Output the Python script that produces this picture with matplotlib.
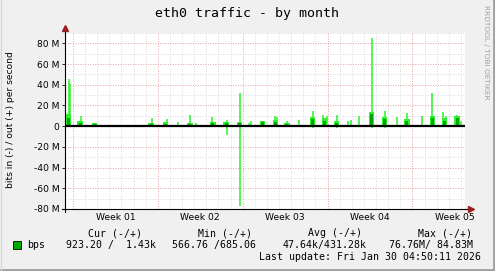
import matplotlib.pyplot as plt
import numpy as np

W, H = 495, 271

# spike positions in days since the left edge of the graph, values in Mbit/s
max_day = [0.33, 0.41, 1.32, 2.31, 2.47, 2.64, 7.17, 8.15, 8.40, 9.31, 10.30, 10.79,
           12.11, 12.27, 13.34, 14.42, 15.16, 15.32, 16.31, 17.30, 17.46, 18.29, 18.45,
           19.28, 20.43, 21.25, 21.58, 22.41, 23.31, 23.56, 24.22, 25.29, 26.36, 27.43,
           28.25, 29.49, 30.31, 31.22, 31.47, 32.37, 32.70]
max_out = [46, 41, 10, 3, 3, 2.5, 8, 3, 7, 4, 11, 3,
           9, 4, 6, 32, 3, 5, 5, 10, 9, 5, 3,
           6, 15, 11, 10, 11, 5, 6, 10, 84.8, 15, 9,
           13, 10, 32, 14, 10, 11, 5]

avg_day = [0.25, 1.25, 2.45, 7.1, 8.3, 10.3, 12.2, 13.3, 14.4, 16.3, 17.35, 18.3,
           20.4, 21.4, 22.4, 25.3, 26.35, 28.2, 30.3, 31.3, 32.35]
avg_out = [8, 3, 2, 2, 2.5, 2, 3, 3, 3, 4, 4, 2,
           7, 5, 3, 12, 7, 5, 8, 5, 8]
hi_out = [12, 5, 3, 3, 4, 3, 4, 4, 4, 5, 6, 3,
          9, 8, 5, 14, 9, 7, 10, 8, 10]

neg_day = [13.34, 14.42, 20.43, 22.41, 25.29, 26.36]
neg_in = [-9, -76.8, -2, -2, -2, -2]

week_lines = [0.66, 7.66, 14.66, 21.66, 28.66]
week_labels = ['Week 01', 'Week 02', 'Week 03', 'Week 04', 'Week 05']

legend_head = [('Cur (-/+)', 115), ('Min (-/+)', 225), ('Avg (-/+)', 335), ('Max (-/+)', 445)]
legend_vals = [('923.20 /  1.43k', 111), ('566.76 /685.06', 214),
               ('47.64k/431.28k', 325), ('76.76M/ 84.83M', 431)]

bright = '#2cf02c'
dark = '#00a800'

fig = plt.figure(figsize=(W / 100, H / 100), dpi=100, facecolor='#f0f0f0')
ax = fig.add_axes([65 / W, 1 - 209 / H, 400 / W, 176 / H])
ax.set_facecolor('white')
ax.set_xlim(0, 33)
ax.set_ylim(-80, 90)

# grid
for d in np.arange(0.66, 33, 1.0):
    ax.axvline(d, color='#cfcfcf', lw=0.6, ls=(0, (1, 2)), zorder=0)
for y in range(-80, 91, 10):
    ax.axhline(y, color='#cfcfcf', lw=0.6, ls=(0, (1, 2)), zorder=0)
for d in week_lines:
    ax.axvline(d, color='#f09a9a', lw=0.6, ls=(0, (1, 2)), zorder=0.5)
for y in range(-80, 91, 20):
    ax.axhline(y, color='#f09a9a', lw=0.6, ls=(0, (1, 2)), zorder=0.5)

ax.bar(avg_day, hi_out, width=0.45, color=bright, lw=0, zorder=2)
ax.vlines(max_day, 0, max_out, colors=bright, lw=1.1, zorder=2)
ax.vlines(neg_day, 0, neg_in, colors=bright, lw=1.1, zorder=2)
ax.bar(avg_day, avg_out, width=0.25, color=dark, lw=0, zorder=3)
ax.axhline(0, color='black', lw=1.6, zorder=4)

for s in ax.spines.values():
    s.set_visible(False)

# axes with arrows
ax.plot([-0.008, 1.012], [0, 0], transform=ax.transAxes, color='black', lw=0.8, clip_on=False, zorder=5)
ax.plot([0, 0], [-0.017, 1.025], transform=ax.transAxes, color='black', lw=0.8, clip_on=False, zorder=5)
ax.plot([1.015], [0], transform=ax.transAxes, marker='>', ms=4, color='#9a2020', clip_on=False, zorder=6)
ax.plot([0], [1.03], transform=ax.transAxes, marker='^', ms=4, color='#9a2020', clip_on=False, zorder=6)

yt = list(range(-80, 81, 20))
ax.set_yticks(yt)
ax.set_yticklabels([('%d M' % v) if v != 0 else '0' for v in yt])
ax.set_xticks([d + 3.5 for d in week_lines])
ax.set_xticklabels(week_labels)
ax.tick_params(axis='y', length=2, width=0.6, pad=2, labelsize=6.6, colors='black')
ax.tick_params(axis='x', length=0, pad=3, labelsize=6.6)

fig.text(11 / W, 1 - 120 / H, 'bits in (-) / out (+) per second', rotation=90,
         ha='center', va='center', fontsize=6.6)
fig.text(247 / W, 1 - 13 / H, 'eth0 traffic - by month', ha='center', va='center',
         fontsize=9.5, family='DejaVu Sans Mono')
fig.text(486 / W, 1 - 5 / H, 'RRDTOOL / TOBI OETIKER', rotation=-90, ha='center', va='top',
         fontsize=5.3, color='#a0a0a0')

mono = 'DejaVu Sans Mono'
for txt, x in legend_head:
    fig.text(x / W, 1 - 233 / H, txt, ha='center', va='center', fontsize=7.1, family=mono)
for txt, x in legend_vals:
    fig.text(x / W, 1 - 245 / H, txt, ha='center', va='center', fontsize=7.1, family=mono)
fig.text(27 / W, 1 - 245 / H, 'bps', ha='left', va='center', fontsize=7.1, family=mono)
fig.patches.append(plt.Rectangle((13 / W, 1 - 249 / H), 8 / W, 8 / H, transform=fig.transFigure,
                                 facecolor='#00aa00', edgecolor='black', lw=0.6))
fig.text(481 / W, 1 - 257 / H, 'Last update: Fri Jan 30 04:50:11 2026', ha='right', va='center',
         fontsize=7.1, family=mono)

# frame
fig.lines.append(plt.Line2D([1 - 1 / W, 1 - 1 / W], [0, 1], transform=fig.transFigure, color='#a0a0a0', lw=2))
fig.lines.append(plt.Line2D([0, 1], [1 / H, 1 / H], transform=fig.transFigure, color='#a0a0a0', lw=2))
fig.lines.append(plt.Line2D([0.5 / W, 0.5 / W], [0, 1], transform=fig.transFigure, color='#d8d8d8', lw=1))

fig.savefig('out.png', dpi=100, facecolor=fig.get_facecolor())
